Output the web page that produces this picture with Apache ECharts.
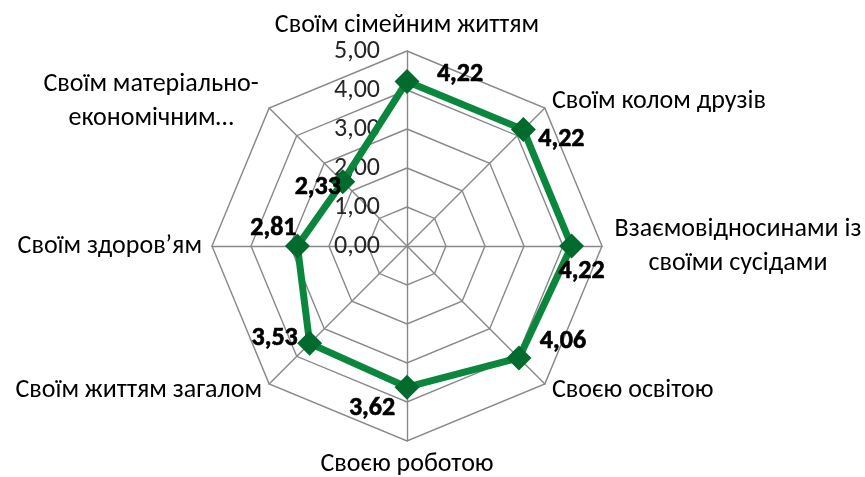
<!DOCTYPE html>
<html>
<head>
<meta charset="utf-8">
<script src="https://cdn.jsdelivr.net/npm/echarts@6/dist/echarts.min.js"></script>
<style>
html,body{margin:0;padding:0;background:#fff;}
#c{width:865px;height:477px;}
</style>
</head>
<body>
<div id="c"></div>
<script>
// Categories in clockwise order starting from the top
const categories = [
  'Своїм сімейним життям',
  'Своїм колом друзів',
  'Взаємовідносинами із\nсвоїми сусідами',
  'Своєю освітою',
  'Своєю роботою',
  'Своїм життям загалом',
  'Своїм здоров’ям',
  'Своїм матеріально-\nекономічним…'
];
const values = [4.22, 4.22, 4.22, 4.06, 3.62, 3.53, 2.81, 2.33];
const tickLabels = ['0,00', '1,00', '2,00', '3,00', '4,00', '5,00'];
const axisMax = 5;

const FONT = 'Carlito, Lato, "Open Sans", sans-serif';
const FS = 26;
const CX = 407, CY = 246, R = 195;

// radar indicators go counter-clockwise in ECharts: reorder
const n = categories.length;
const order = [];
for (let j = 0; j < n; j++) order.push((n - j) % n);

const indicator = order.map((k, j) => {
  const ind = { name: categories[k], min: 0, max: axisMax };
  if (j === 0) {
    ind.axisLabel = {
      show: true,
      fontSize: FS,
      fontFamily: FONT,
      color: '#262626',
      margin: 27,
      formatter: (v) => tickLabels[Math.round(v)] !== undefined ? tickLabels[Math.round(v)] : ''
    };
  }
  return ind;
});

const labelOffsets = [[53, -7], [38, 10], [10, 25], [44, -16], [-35, 21], [-35, -5], [-24, -18], [-25, 6]];

const fmt = v => v.toFixed(2).replace('.', ',');

const chart = echarts.init(document.getElementById('c'));
chart.setOption({
  animation: false,
  backgroundColor: '#fff',
  radar: {
    center: [CX, CY],
    radius: R,
    startAngle: 90,
    shape: 'polygon',
    splitNumber: 5,
    nameGap: 10,
    axisName: {
      color: '#000',
      fontSize: FS,
      fontFamily: FONT,
      formatter: function (name) {
        if (name.indexOf('матеріально') >= 0) return '{a|' + name + '}';
        if (name.indexOf('Взаємовідносинами') >= 0) return '{b|' + name + '}';
        return name;
      },
      rich: {
        a: { width: 222, align: 'center', lineHeight: 34, fontSize: FS, fontFamily: FONT, color: '#000' },
        b: { width: 252, align: 'center', lineHeight: 34, fontSize: FS, fontFamily: FONT, color: '#000' }
      }
    },
    splitLine: { lineStyle: { color: '#888888', width: 1.4 } },
    splitArea: { show: false },
    axisLine: { lineStyle: { color: '#888888', width: 1.4 } },
    axisTick: { show: false },
    axisLabel: { show: false },
    indicator: indicator
  },
  polar: { center: [CX, CY], radius: R },
  angleAxis: {
    type: 'category',
    data: categories,
    startAngle: 90,
    clockwise: true,
    boundaryGap: false,
    show: false
  },
  radiusAxis: { type: 'value', min: 0, max: axisMax, show: false },
  series: [
    {
      type: 'radar',
      symbol: 'diamond',
      symbolSize: 25,
      itemStyle: { color: '#006b2c' },
      lineStyle: { color: '#0a873c', width: 7 },
      data: [{ value: order.map(k => values[k]) }],
      z: 3
    },
    {
      type: 'scatter',
      coordinateSystem: 'polar',
      symbolSize: 1,
      itemStyle: { color: '#ffffff', opacity: 0 },
      silent: true,
      z: 4,
      data: values.map((v, i) => ({
        value: [v, i],
        label: {
          show: true,
          position: 'inside',
          offset: labelOffsets[i],
          formatter: () => fmt(v),
          fontSize: FS,
          fontWeight: 'bold',
          fontFamily: FONT,
          color: '#000000',
          opacity: 1,
          textBorderColor: '#000000',
          textBorderWidth: 0.6
        }
      }))
    }
  ]
});
</script>
</body>
</html>
